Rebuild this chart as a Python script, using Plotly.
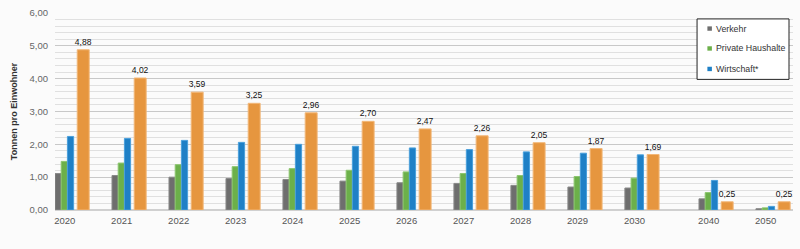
import plotly.graph_objects as go

years = ["2020", "2021", "2022", "2023", "2024", "2025", "2026", "2027", "2028", "2029", "2030", "2040", "2050"]
verkehr = [1.11, 1.05, 1.00, 0.96, 0.93, 0.88, 0.83, 0.81, 0.75, 0.70, 0.67, 0.34, 0.04]
private_haushalte = [1.48, 1.43, 1.38, 1.32, 1.26, 1.21, 1.16, 1.11, 1.05, 1.02, 0.97, 0.53, 0.065]
wirtschaft = [2.24, 2.18, 2.12, 2.06, 2.00, 1.94, 1.89, 1.84, 1.77, 1.73, 1.68, 0.90, 0.11]
gesamt = [4.88, 4.02, 3.59, 3.25, 2.96, 2.70, 2.47, 2.26, 2.05, 1.87, 1.69, 0.25, 0.25]
yticks = [0, 1, 2, 3, 4, 5, 6]
legend_names = ["Verkehr", "Private Haushalte", "Wirtschaft*"]

C_GRAY, C_GREEN, C_BLUE, C_ORANGE = "#6e6e6e", "#6cb04a", "#1f80c6", "#e6963f"

# x positions: category index, with an extra gap after 2030
xpos = [i + (0.3 if int(y) > 2030 else 0) for i, y in enumerate(years)]

small_w = 0.109
big_w = 0.21

fig = go.Figure()

def add_small(vals, name, color, line_color, off):
    fig.add_trace(go.Bar(
        x=xpos, y=vals, width=small_w, offset=off, name=name,
        marker=dict(color=color, line=dict(color=line_color, width=1)),
        showlegend=False, hoverinfo="y"))

add_small(verkehr, legend_names[0], C_GRAY, "#8a8a8a", -0.17)
add_small(private_haushalte, legend_names[1], C_GREEN, "#8cc66e", -0.17 + small_w)
add_small(wirtschaft, legend_names[2], C_BLUE, "#4aa0dc", -0.17 + 2 * small_w)

fig.add_trace(go.Bar(
    x=xpos, y=gesamt, width=big_w, offset=0.22,
    marker=dict(color=C_ORANGE, line=dict(color="#f2b778", width=1)),
    text=gesamt, texttemplate="%{y:.2f}", textposition="outside",
    constraintext="none",
    textfont=dict(size=8.5, color="#111111", family="Liberation Sans"),
    cliponaxis=False, showlegend=False, hoverinfo="y"))

# manual legend (plot-area paper coordinates)
H = 202.0
W = 738.0
fig.add_shape(type="rect", xref="paper", yref="paper",
              x0=0.870, x1=0.9946, y0=0.663, y1=0.970,
              line=dict(color="#222222", width=1), fillcolor="#ffffff", layer="above")
for name, color, yy in zip(legend_names, [C_GRAY, C_GREEN, C_BLUE], [0.921, 0.820, 0.716]):
    fig.add_shape(type="rect", xref="paper", yref="paper",
                  x0=0.884, x1=0.884 + 4.5 / W, y0=yy - 2.25 / H, y1=yy + 2.25 / H,
                  line=dict(width=0), fillcolor=color, layer="above")
    fig.add_annotation(xref="paper", yref="paper", x=0.893, y=yy, text=name,
                       xanchor="left", yanchor="middle", showarrow=False,
                       font=dict(size=8.8, color="#333333", family="Liberation Sans"))

fig.update_layout(
    width=800, height=249,
    margin=dict(l=55, r=7, t=8, b=39),
    paper_bgcolor="#fbfbfb", plot_bgcolor="#fbfbfb",
    separators=",.",
    barmode="overlay",
    showlegend=False,
    font=dict(family="Liberation Sans", size=10, color="#444444"),
    xaxis=dict(
        range=[-0.17, 12.78], tickmode="array", tickvals=xpos, ticktext=years,
        showgrid=False, zeroline=False, showline=False, ticks="",
        ticklabelstandoff=3,
        tickfont=dict(size=9.5, color="#555555")),
    yaxis=dict(
        range=[0, 6], tickmode="array", tickvals=yticks, tickformat=".2f",
        showgrid=True, gridcolor="#c8c8c8", gridwidth=1,
        minor=dict(dtick=0.2, showgrid=True, gridcolor="#e0e0e0", gridwidth=1),
        zeroline=True, zerolinecolor="#d0d0d0",
        ticks="", ticklabelstandoff=6,
        tickfont=dict(size=9.5, color="#666666"),
        title=dict(text="<b>Tonnen pro Einwohner</b>", standoff=10,
                   font=dict(size=9, color="#333333", family="Liberation Sans"))),
)

fig.write_html("out.html")
